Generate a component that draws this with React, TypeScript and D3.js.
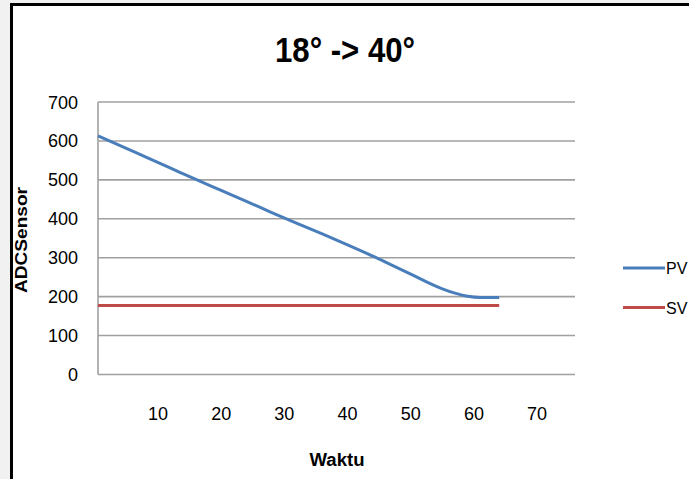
import React from "react";
import * as d3 from "d3";

const title = "18° -> 40°";
const yTicks = [0, 100, 200, 300, 400, 500, 600, 700];
const xTicks = [10, 20, 30, 40, 50, 60, 70];
const pvTime = [0.5, 4, 8, 12, 16, 20, 24, 28, 32, 36, 40, 44, 47, 50, 53, 55, 57, 59, 61, 64];
const pvValue = [613, 588, 559, 530, 501, 473, 445, 416, 388, 361, 333, 304, 281, 258, 234, 220, 209, 201, 198, 198];
const svTime = [0.5, 64];
const svValue = [177, 177];
const seriesNames = ["PV", "SV"];
const seriesColors = ["#4a7ebb", "#be4b48"];

const FONT = "'Liberation Sans', Arial, sans-serif";

export default function App() {
  const W = 689, H = 479;
  const left = 98, right = 575, top = 102, bottom = 374.5;
  const x = d3.scaleLinear().domain([0.5, 76]).range([left, right]);
  const y = d3.scaleLinear().domain([0, 700]).range([bottom, top]);
  const line = d3
    .line<[number, number]>()
    .x((d) => x(d[0]))
    .y((d) => y(d[1]))
    .curve(d3.curveMonotoneX);
  const pv = pvTime.map((t, i) => [t, pvValue[i]] as [number, number]);
  const sv = svTime.map((t, i) => [t, svValue[i]] as [number, number]);
  const series = [pv, sv];

  return (
    <svg width={W} height={H} style={{ position: "absolute", left: 0, top: 0 }} fontFamily={FONT}>
      <rect x={0} y={0} width={W} height={H} fill="#f1f1f1" />
      <rect x={11.5} y={4.5} width={W + 20} height={H + 20} fill="#ffffff" stroke="#000" strokeWidth={3} />
      <text x={345} y={62} textAnchor="middle" fontSize={35} fontWeight="bold" fill="#000"
        textLength={140} lengthAdjust="spacingAndGlyphs">
        {title}
      </text>
      {yTicks.map((t) => (
        <g key={t}>
          {t > 0 && (
            <line x1={left} x2={right} y1={y(t)} y2={y(t)} stroke="#a0a0a0" strokeWidth={1.6} />
          )}
          <text x={78} y={y(t) + 6.5} textAnchor="end" fontSize={18} fill="#000">
            {t}
          </text>
        </g>
      ))}
      <line x1={left} x2={left} y1={top} y2={bottom} stroke="#a0a0a0" strokeWidth={1.6} />
      <line x1={left} x2={right} y1={bottom} y2={bottom} stroke="#a0a0a0" strokeWidth={1.6} />
      {xTicks.map((t) => (
        <text key={t} x={x(t)} y={420} textAnchor="middle" fontSize={18} fill="#000">
          {t}
        </text>
      ))}
      <text x={337} y={466} textAnchor="middle" fontSize={18} fontWeight="bold" fill="#000"
        textLength={55} lengthAdjust="spacingAndGlyphs">
        Waktu
      </text>
      <text
        transform={`translate(27,240) rotate(-90)`}
        textAnchor="middle"
        fontSize={17}
        fontWeight="bold"
        fill="#000"
        textLength={106}
        lengthAdjust="spacingAndGlyphs"
      >
        ADCSensor
      </text>
      {series.map((s, i) => (
        <path key={i} d={line(s) || ""} fill="none" stroke={seriesColors[i]} strokeWidth={3} />
      ))}
      {seriesNames.map((n, i) => (
        <g key={n}>
          <line x1={623} x2={665} y1={268 + i * 39.5} y2={268 + i * 39.5} stroke={seriesColors[i]} strokeWidth={3} />
          <text x={666} y={268 + i * 39.5 + 6} fontSize={16} fill="#000">
            {n}
          </text>
        </g>
      ))}
    </svg>
  );
}
